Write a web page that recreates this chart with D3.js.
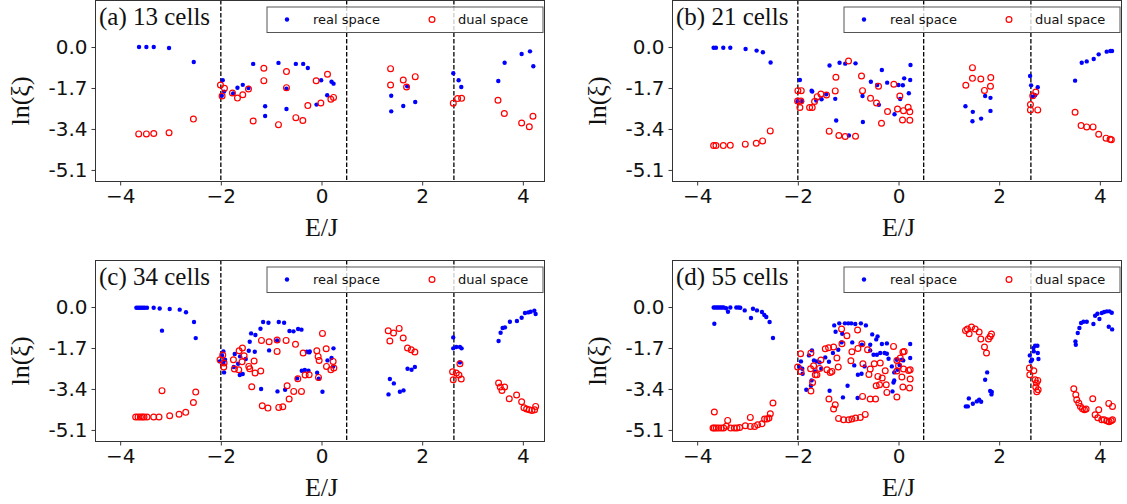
<!DOCTYPE html>
<html>
<head>
<meta charset="utf-8">
<script src="https://cdn.jsdelivr.net/npm/d3@7"></script>
<style>
body { margin: 0; background: #fff; }
svg { display: block; }
</style>
</head>
<body>
<div id="chart"></div>
<script>
// tick values and labels
var xTicks = [-4, -2, 0, 2, 4];
var xTickLabels = ["\u22124", "\u22122", "0", "2", "4"];
var yTicks = [0, -1.7, -3.4, -5.1];
var yTickLabels = ["0.0", "-1.7", "-3.4", "-5.1"];
var bandEdges = [-2, 0.5, 2.63];
var panelTitles = ["(a) 13 cells", "(b) 21 cells", "(c) 34 cells", "(d) 55 cells"];
var seriesNames = ["real space", "dual space"];

// (a) 13 cells  [E/J, ln(xi)]
var realA = [[-3.625,0],[-3.479,0],[-3.333,0],[-3.029,-0.04],[-2.538,-0.62],
  [-1.962,-1.38],[-1.935,-1.85],[-1.981,-2.02],[-1.756,-1.93],[-1.67,-1.69],[-1.564,-1.57],[-1.451,-1.70],
  [-1.358,-0.70],[-1.12,-2.46],[-1.12,-2.86],[-0.855,-0.66],[-0.696,-1.727],[-0.696,-2.57],[-0.51,-0.70],
  [-0.364,-0.70],[-0.272,-0.87],[-0.007,-1.38],[0.113,-2.0],[-0.099,-2.39],[0.199,-1.44],[0.239,-1.52],
  [1.385,-2.02],[1.385,-2.67],[1.624,-2.45],[1.703,-1.63],[1.862,-2.28],
  [2.618,-1.09],[2.724,-1.38],[2.777,-1.66],
  [3.512,-1.41],[3.638,-0.65],[3.976,-0.29],[4.142,-0.18],[4.208,-0.80]];
var dualA = [[-3.632,-3.605],[-3.479,-3.605],[-3.333,-3.59],[-3.029,-3.56],[-2.545,-2.99],
  [-2.008,-1.575],[-1.928,-1.71],[-1.975,-2.03],[-1.769,-1.906],[-1.67,-2.12],[-1.564,-1.98],[-1.451,-1.74],
  [-1.358,-3.07],[-1.146,-0.884],[-1.146,-1.395],[-0.855,-3.22],[-0.696,-1.02],[-0.696,-1.685],[-0.51,-2.93],
  [-0.371,-3.05],[-0.272,-2.43],[-0.106,-1.40],[-0.013,-2.32],[0.119,-1.13],[0.186,-2.17],[0.239,-2.09],
  [1.372,-0.898],[1.372,-1.575],[1.624,-1.37],[1.69,-1.66],[1.862,-1.23],
  [2.618,-2.33],[2.704,-2.14],[2.783,-2.13],
  [3.506,-2.21],[3.632,-2.76],[3.976,-3.15],[4.128,-3.31],[4.201,-2.87]];

// (b) 21 cells
var realB = [[-3.673,-0.03],[-3.627,-0.03],[-3.481,-0.03],[-3.342,-0.03],[-3.038,-0.08],[-2.819,-0.15],[-2.694,-0.22],[-2.541,-0.64],
  [-1.959,-1.37],[-2.005,-2.25],[-1.919,-2.25],[-1.727,-1.81],[-1.714,-1.85],[-1.635,-2.22],[-1.529,-2.17],[-1.436,-1.96],
  [-1.37,-0.77],[-1.257,-2.15],[-1.238,-3.05],[-1.171,-0.65],[-1.059,-0.69],[-0.986,-3.67],[-0.854,-0.677],[-0.715,-2.03],
  [-0.708,-3.11],[-0.549,-1.44],[-0.424,-1.575],[-0.39,-2.40],[-0.331,-0.953],[-0.225,-1.478],[-0.079,-2.79],[0,-1.575],
  [0.033,-2.155],[0.086,-1.589],[0.113,-1.30],[0.205,-1.92],[0.232,-1.367],[0.238,-0.746],
  [1.33,-2.46],[1.476,-2.69],[1.469,-3.08],[1.641,-2.97],[1.721,-2.03],[1.827,-2.11],[1.827,-2.65],
  [2.614,-1.2],[2.634,-1.59],[2.66,-2.06],[2.713,-2.0],[2.766,-1.67],
  [3.508,-1.395],[3.64,-0.65],[3.739,-0.597],[3.878,-0.5],[3.977,-0.304],[4.136,-0.193],[4.209,-0.166],[4.242,-0.166]];
var dualB = [[-3.673,-4.09],[-3.627,-4.09],[-3.481,-4.09],[-3.342,-4.08],[-3.044,-4.03],[-2.826,-3.99],[-2.70,-3.895],[-2.548,-3.48],
  [-1.999,-1.81],[-1.932,-1.81],[-2.005,-2.24],[-1.959,-2.51],[-1.939,-2.24],[-1.767,-2.51],[-1.714,-2.51],[-1.668,-2.26],
  [-1.615,-2.06],[-1.542,-1.95],[-1.43,-1.99],[-1.377,-3.49],[-1.244,-1.257],[-1.257,-1.82],[-1.185,-3.67],[-1.059,-3.71],
  [-0.993,-0.58],[-0.854,-3.70],[-0.735,-1.20],[-0.715,-1.81],[-0.556,-2.13],[-0.437,-2.32],[-0.397,-1.63],[-0.338,-3.16],
  [-0.218,-2.68],[-0.093,-1.547],[0.026,-2.03],[-0.02,-2.57],[0.099,-2.64],[0.192,-2.50],[0.225,-2.69],[0.225,-3.04],[0.079,-3.03],
  [1.337,-1.589],[1.469,-0.856],[1.469,-1.30],[1.635,-1.326],[1.707,-1.80],[1.833,-1.27],[1.827,-1.63],
  [2.621,-2.39],[2.621,-2.61],[2.667,-2.02],[2.727,-1.865],[2.766,-2.61],
  [3.508,-2.707],[3.627,-3.26],[3.739,-3.315],[3.865,-3.315],[3.977,-3.62],[4.123,-3.78],[4.203,-3.83],[4.229,-3.85]];

// (c) 34 cells
var realC = [[-3.678,-0.03],[-3.645,-0.03],[-3.612,-0.03],[-3.579,-0.03],[-3.546,-0.03],[-3.513,-0.03],[-3.467,-0.03],
  [-3.334,-0.03],[-3.215,-0.06],[-3.016,-0.08],[-2.817,-0.11],[-2.692,-0.22],[-2.533,-0.62],[-3.169,-0.98],[-2.499,-1.29],
  [-1.160,-0.624],[-1.054,-0.651],[-0.849,-0.624],[-0.743,-0.651],[-1.213,-0.90],[-1.399,-1.094],[-1.313,-1.163],
  [-0.637,-0.997],[-0.557,-1.01],[-0.465,-0.914],[-0.398,-0.94],[-1.426,-1.44],[-0.882,-1.385],[-1.445,-1.813],
  [-1.326,-1.855],[-1.041,-1.80],[-0.292,-1.855],[-0.246,-1.883],[-0.233,-1.841],[-1.949,-1.841],[-1.976,-2.007],
  [-1.724,-1.951],[-1.916,-2.187],[-1.618,-2.048],[-1.505,-2.159],[-2.022,-2.256],[-1.949,-2.325],[-1.657,-2.353],
  [-1.743,-2.49],[-1.936,-2.712],[-1.624,-2.823],[-1.565,-2.781],[-0.392,-2.643],[-0.332,-2.615],[-0.259,-2.643],
  [-0.087,-2.726],[0.119,-2.214],[0.199,-2.117],[0.238,-1.716],[0.231,-2.463],[-0.484,-2.961],[-0.054,-2.975],
  [-1.2,-3.404],[-0.875,-3.501],[-0.723,-3.432],[0.019,-3.515],
  [1.358,-2.989],[1.437,-3.169],[1.331,-3.625],[1.557,-3.515],[1.629,-3.459],[1.709,-2.56],[1.789,-2.602],[1.855,-2.49],
  [2.617,-1.26],[2.617,-1.716],[2.677,-1.661],[2.750,-1.661],[2.783,-1.716],[2.750,-2.297],
  [3.518,-1.412],[3.558,-1.066],[3.598,-0.873],[3.644,-0.845],[3.743,-0.61],[3.882,-0.582],[3.976,-0.444],
  [4.042,-0.25],[4.108,-0.223],[4.155,-0.195],[4.228,-0.154],[4.254,-0.292]];
var dualC = [[-3.692,-4.56],[-3.645,-4.56],[-3.599,-4.56],[-3.559,-4.56],[-3.526,-4.56],[-3.467,-4.56],[-3.334,-4.56],
  [-3.228,-4.56],[-3.016,-4.51],[-2.830,-4.45],[-2.698,-4.37],[-2.545,-3.96],[-2.499,-3.53],[-3.169,-3.47],
  [-2.016,-2.187],[-1.962,-1.993],[-1.936,-2.325],[-1.942,-2.49],[-1.750,-2.187],[-1.637,-1.813],[-1.571,-1.702],
  [-1.730,-2.573],[-1.644,-2.601],[-1.578,-2.27],[-1.538,-2.02],[-1.445,-2.463],[-1.426,-2.56],[-1.339,-2.242],
  [-1.32,-2.74],[-1.207,-2.657],[-1.386,-3.307],[-1.193,-1.385],[-1.041,-1.44],[-0.882,-1.371],[-0.703,-1.385],
  [-0.517,-1.55],[-0.882,-1.841],[-0.365,-1.91],[0.019,-1.094],[-0.093,-1.813],[-0.067,-2.048],[0.093,-1.73],
  [-0.047,-2.214],[0.099,-2.463],[0.185,-2.601],[0.231,-2.256],[0.245,-2.532],[-0.471,-2.975],[-0.325,-2.823],
  [-0.246,-2.81],[-0.06,-2.92],[-0.683,-3.265],[-0.552,-3.501],[-0.398,-3.501],[-0.643,-3.819],[-0.769,-4.137],
  [-0.849,-4.165],[-1.177,-4.096],[-1.064,-4.193],
  [1.325,-0.983],[1.431,-1.08],[1.543,-0.887],[1.358,-1.412],[1.623,-1.288],[1.709,-1.702],[1.782,-1.772],[1.855,-1.869],
  [2.750,-2.353],[2.604,-2.685],[2.677,-2.74],[2.730,-2.823],[2.617,-3.017],[2.776,-2.989],
  [3.518,-3.155],[3.551,-3.321],[3.638,-3.321],[3.585,-3.459],[3.730,-3.805],[3.876,-3.652],[3.976,-3.929],
  [4.022,-4.178],[4.075,-4.234],[4.128,-4.261],[4.181,-4.289],[4.234,-4.261],[4.254,-4.123]];

// (d) 55 cells
var realD = [[-3.672,-0.02],[-3.639,-0.02],[-3.606,-0.02],[-3.573,-0.02],[-3.540,-0.02],[-3.507,-0.02],[-3.474,-0.02],
  [-3.426,-0.05],[-3.388,-0.195],[-3.341,-0.02],[-3.222,-0.02],[-3.176,-0.02],[-3.143,-0.03],[-3.055,-0.14],[-2.931,-0.458],
  [-2.891,-0.07],[-2.812,-0.14],[-2.713,-0.21],[-2.666,-0.333],[-2.627,-0.416],[-2.561,-0.624],[-2.494,-1.288],[-3.659,-0.693],
  [-1.277,-0.762],[-1.177,-0.679],[-1.065,-0.679],[-0.999,-0.679],[-0.939,-0.679],[-0.859,-0.707],[-0.747,-0.679],
  [-0.648,-0.762],[-1.250,-1.025],[-1.118,-1.108],[-0.522,-1.136],[-0.416,-1.219],[-0.443,-1.343],[-0.330,-1.537],
  [-0.231,-1.509],[-0.919,-1.468],[-0.727,-1.564],[-0.562,-1.564],[-1.131,-1.468],[-1.197,-1.772],[-1.303,-1.91],
  [-1.382,-2.27],[-1.455,-2.09],[-1.568,-2.297],[-1.621,-2.256],[-1.680,-2.214],[-1.779,-2.007],[-1.720,-1.80],
  [-1.938,-2.256],[-1.965,-2.491],[-1.912,-2.560],[-1.905,-2.768],[-1.727,-3.044],[-1.740,-3.266],[-1.832,-3.432],
  [-1.660,-2.671],[-1.535,-2.560],[-0.879,-2.422],[-0.807,-2.809],[-0.734,-2.768],[-0.674,-2.463],[-0.562,-1.80],
  [-0.496,-1.979],[-0.429,-1.979],[-0.363,-1.91],[-0.277,-1.91],[-0.231,-1.938],[-0.198,-2.145],[-0.132,-2.463],
  [-0.085,-2.712],[-0.085,-3.044],[-0.019,-2.602],[0.020,-2.408],[0.067,-2.187],[0.093,-2.214],[-1.369,-3.473],
  [-1.104,-3.750],[-1.012,-3.266],[-0.813,-3.777],[-0.032,-2.187],[-0.10,-3.13],[-0.12,-3.5],[0.232,-1.537],[0.232,-2.118],
  [1.337,-4.123],[1.377,-4.123],[1.397,-3.791],[1.477,-4.012],[1.556,-3.916],[1.602,-3.846],[1.642,-3.929],
  [1.721,-3.017],[1.761,-2.712],[1.821,-3.487],[1.847,-3.625],[1.853,-3.528],
  [2.608,-2.007],[2.628,-2.256],[2.654,-2.187],[2.681,-1.702],[2.714,-1.606],[2.760,-1.606],[2.767,-1.91],[2.780,-2.159],[2.688,-1.841],
  [3.515,-1.426],[3.522,-1.564],[3.561,-1.08],[3.594,-0.873],[3.627,-0.665],[3.674,-0.61],[3.740,-0.61],[3.872,-0.707],
  [3.906,-0.361],[3.952,-0.278],[3.992,-0.499],[4.038,-0.25],[4.085,-0.209],[4.138,-0.181],[4.191,-0.181],[4.237,-0.237],
  [4.177,-0.817],[4.244,-0.928]];
var dualD = [[-3.685,-5.02],[-3.659,-5.02],[-3.619,-5.02],[-3.573,-5.02],[-3.523,-5.02],[-3.474,-5.02],[-3.421,-4.95],
  [-3.335,-5.02],[-3.262,-5.02],[-3.209,-5.02],[-3.156,-5.0],[-3.043,-4.925],[-2.944,-4.953],[-2.858,-4.953],[-2.799,-4.884],
  [-2.713,-4.842],[-2.66,-4.649],[-2.613,-4.649],[-2.574,-4.608],[-2.547,-4.427],[-2.494,-3.985],[-3.659,-4.358],
  [-3.394,-4.704],[-2.944,-4.58],
  [-1.945,-1.938],[-2.004,-2.491],[-1.938,-2.671],[-1.740,-1.91],[-1.747,-2.560],[-1.687,-2.436],[-1.568,-2.546],
  [-1.541,-2.2],[-1.654,-2.809],[-1.621,-2.809],[-1.707,-3.127],[-1.740,-3.487],[-1.455,-1.730],[-1.389,-1.689],
  [-1.290,-1.661],[-1.224,-2.118],[-1.197,-2.491],[-1.323,-2.671],[-1.356,-2.712],[-1.422,-2.602],[-1.124,-1.523],
  [-1.025,-1.191],[-0.813,-0.956],[-1.131,-0.914],[-0.926,-1.855],[-0.807,-1.717],[-0.727,-1.523],[-0.615,-1.772],
  [-0.946,-2.228],[-0.707,-2.353],[-0.562,-2.574],[-0.588,-2.795],[-0.482,-2.353],[-0.363,-2.325],[-0.264,-2.643],
  [-0.410,-2.878],[-0.443,-3.266],[-0.377,-3.224],[-0.324,-2.947],[-0.244,-3.224],[-0.231,-3.542],[-0.032,-3.736],
  [-0.456,-3.819],[-0.562,-3.819],[-0.714,-3.708],[-1.382,-3.819],[-1.257,-4.054],[-1.290,-4.234],[-1.191,-4.621],
  [-1.091,-4.676],[-0.992,-4.676],[-0.926,-4.648],[-0.853,-4.608],[-0.760,-4.580],[-0.661,-4.455],[-0.099,-1.634],
  [-0.032,-2.214],[0.034,-2.118],[0.087,-1.869],[0.001,-2.436],[-0.032,-2.657],[0.067,-2.906],[0.087,-3.321],
  [0.100,-2.574],[0.113,-1.841],[0.199,-2.63],[0.232,-2.989],[0.219,-3.362],[0.232,-2.6],
  [1.331,-0.970],[1.370,-0.914],[1.450,-0.831],[1.403,-1.108],[1.523,-0.914],[1.602,-1.039],[1.635,-1.329],
  [1.787,-1.329],[1.821,-1.219],[1.847,-1.122],[1.708,-1.661],[1.748,-1.91],
  [2.601,-2.532],[2.608,-2.809],[2.688,-2.643],[2.714,-3.017],[2.767,-3.044],[2.740,-3.155],[2.727,-3.321],[2.774,-3.432],[2.747,-3.515],
  [3.482,-3.39],[3.522,-3.639],[3.541,-3.846],[3.581,-3.985],[3.614,-4.123],[3.654,-4.22],[3.694,-4.261],[3.727,-4.234],
  [3.859,-3.805],[3.906,-4.469],[3.978,-4.261],[3.959,-4.593],[4.038,-4.676],[4.085,-4.676],[4.138,-4.718],[4.184,-4.759],
  [4.224,-4.718],[4.251,-4.676],[4.177,-3.999],[4.251,-4.123]];

var realSets = [realA, realB, realC, realD];
var dualSets = [dualA, dualB, dualC, dualD];

// layout of the 2x2 grid
var width = 1127, height = 504;
var pw = 450, ph = 182;
var origins = [[95, 0], [672, 0], [95, 260], [672, 260]];

var svg = d3.select("#chart")
    .append("svg")
    .attr("width", width)
    .attr("height", height);

var x = d3.scaleLinear().domain([-4.5, 4.44]).range([0, pw]);
var y = d3.scaleLinear().domain([-5.6, 1.95]).range([ph, 0]);

var blue = "#0000ff", red = "#ff0000";

panelTitles.forEach(function (title, p) {
    var g = svg.append("g")
        .attr("transform", "translate(" + origins[p][0] + "," + origins[p][1] + ")");

    // x axis
    var xAxis = g.append("g")
        .attr("transform", "translate(0," + ph + ")")
        .call(d3.axisBottom(x).tickValues(xTicks).tickSize(3.5).tickPadding(3)
            .tickFormat(function (d, i) { return xTickLabels[i]; }));
    // y axis
    var yAxis = g.append("g")
        .call(d3.axisLeft(y).tickValues(yTicks).tickSize(3.5).tickPadding(4)
            .tickFormat(function (d, i) { return yTickLabels[i]; }));
    [xAxis, yAxis].forEach(function (a) {
        a.select(".domain").remove();
        a.selectAll(".tick line").attr("stroke", "#222").attr("stroke-width", 0.9);
        a.selectAll(".tick text")
            .attr("fill", "#111")
            .style("font-family", "'DejaVu Sans', sans-serif")
            .style("font-size", "20px");
    });

    // dashed band edges
    g.selectAll(".band")
        .data(bandEdges)
        .enter()
        .append("line")
        .attr("x1", function (d) { return x(d); })
        .attr("x2", function (d) { return x(d); })
        .attr("y1", 0)
        .attr("y2", ph)
        .attr("stroke", "#000")
        .attr("stroke-width", 1.3)
        .attr("stroke-dasharray", "4.5,2");

    // real space dots
    g.selectAll(".real")
        .data(realSets[p])
        .enter()
        .append("circle")
        .attr("cx", function (d) { return x(d[0]); })
        .attr("cy", function (d) { return y(d[1]); })
        .attr("r", 2.2)
        .attr("fill", blue);

    // dual space open circles
    g.selectAll(".dual")
        .data(dualSets[p])
        .enter()
        .append("circle")
        .attr("cx", function (d) { return x(d[0]); })
        .attr("cy", function (d) { return y(d[1]); })
        .attr("r", 2.9)
        .attr("fill", "none")
        .attr("stroke", red)
        .attr("stroke-width", 1.2);

    // legend
    var lg = g.append("g").attr("transform", "translate(172,7)");
    lg.append("rect")
        .attr("width", 276)
        .attr("height", 25.5)
        .attr("fill", "#fff")
        .attr("fill-opacity", 0.8)
        .attr("stroke", "#555")
        .attr("stroke-width", 1);
    lg.append("circle").attr("cx", 20).attr("cy", 12.5).attr("r", 2.2).attr("fill", blue);
    lg.append("circle").attr("cx", 165).attr("cy", 12.5).attr("r", 2.9)
        .attr("fill", "none").attr("stroke", red).attr("stroke-width", 1.2);
    lg.selectAll(".ltext")
        .data(seriesNames)
        .enter()
        .append("text")
        .attr("x", function (d, i) { return i === 0 ? 46 : 191; })
        .attr("y", 17)
        .style("font-family", "'DejaVu Sans', sans-serif")
        .style("font-size", "13px")
        .attr("fill", "#111")
        .text(function (d) { return d; });

    // panel title
    g.append("text")
        .attr("x", 4)
        .attr("y", 25)
        .style("font-family", "'Liberation Serif', serif")
        .style("font-size", "25px")
        .attr("fill", "#111")
        .text(title);

    // frame
    g.append("rect")
        .attr("x", 0.5)
        .attr("y", 0.5)
        .attr("width", pw - 1)
        .attr("height", ph - 1)
        .attr("fill", "none")
        .attr("stroke", "#333")
        .attr("stroke-width", 1);

    // axis labels
    g.append("text")
        .attr("x", x(0))
        .attr("y", ph + 54)
        .attr("text-anchor", "middle")
        .style("font-family", "'Liberation Serif', serif")
        .style("font-size", "26px")
        .attr("fill", "#111")
        .text("E/J");
    g.append("text")
        .attr("transform", "translate(-66," + (ph / 2 + 10) + ") rotate(-90)")
        .attr("text-anchor", "middle")
        .style("font-family", "'Liberation Serif', serif")
        .style("font-size", "26px")
        .attr("fill", "#111")
        .text("ln(\u03BE)");
});
</script>
</body>
</html>
